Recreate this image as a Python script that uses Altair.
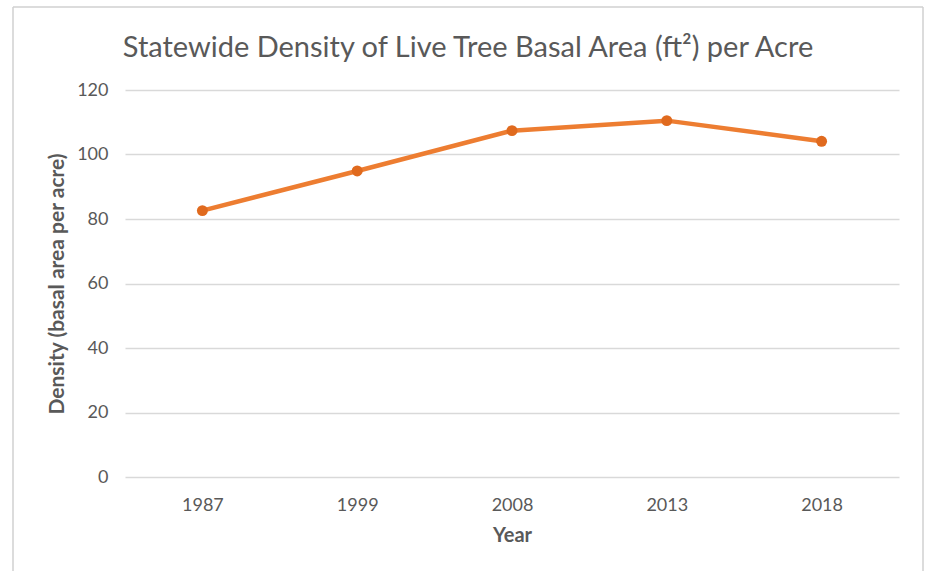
import altair as alt
import pandas as pd

# Survey years and average live tree basal area (sq ft per acre)
years = ["1987", "1999", "2008", "2013", "2018"]
density = [82.6, 94.9, 107.4, 110.5, 104.1]
chart_title = ["Statewide Density of Live Tree Basal Area (ft²) per Acre"]

df = pd.DataFrame({"Year": years, "Density": density})

FONT = "Lato"
GREY = "#595959"
GRID = "#D9D9D9"
ORANGE = "#ED7D31"

base = alt.Chart(df)

line = base.mark_line(color=ORANGE, strokeWidth=4.5).encode(
    x=alt.X(
        "Year:N",
        sort=years,
        scale=alt.Scale(paddingInner=1, paddingOuter=0.5),
        axis=alt.Axis(
            title="Year",
            labelAngle=0,
            labelFont=FONT,
            labelFontSize=18,
            labelColor=GREY,
            labelPadding=19,
            ticks=False,
            domain=False,
            grid=False,
            titleFont=FONT,
            titleFontSize=20,
            titleFontWeight="bold",
            titleColor=GREY,
            titlePadding=11,
        ),
    ),
    y=alt.Y(
        "Density:Q",
        scale=alt.Scale(domain=[0, 120]),
        axis=alt.Axis(
            title="Density (basal area per acre)",
            values=[0, 20, 40, 60, 80, 100, 120],
            labelFont=FONT,
            labelFontSize=18,
            labelColor=GREY,
            labelPadding=17,
            ticks=False,
            domain=False,
            gridColor=GRID,
            gridWidth=1.5,
            titleFont=FONT,
            titleFontSize=21,
            titleFontWeight="bold",
            titleColor=GREY,
            titleX=-68,
            titleY=193.5,
            titleBaseline="middle",
        ),
    ),
)

points = base.mark_circle(color="#E06A1E", opacity=1, size=120).encode(
    x=alt.X("Year:N", sort=years),
    y="Density:Q",
)

# Chart heading, drawn as a text mark centred over the framed area
heading = alt.Chart(pd.DataFrame({"t": chart_title})).mark_text(
    font=FONT, fontSize=29, color=GREY, align="center", baseline="alphabetic"
).encode(text="t:N", x=alt.value(343), y=alt.value(-33))

# Thin frame around the whole chart area
frame = alt.Chart(pd.DataFrame({"k": [0]}))
frame_color = "#D0D0D0"
left = frame.mark_rule(color=frame_color, strokeWidth=1.5).encode(
    x=alt.value(-112), y=alt.value(-83), y2=alt.value(500)
)
right = frame.mark_rule(color=frame_color, strokeWidth=1.5).encode(
    x=alt.value(798), y=alt.value(-83), y2=alt.value(500)
)
top = frame.mark_rule(color=frame_color, strokeWidth=1.5).encode(
    x=alt.value(-112), x2=alt.value(798), y=alt.value(-83)
)

chart = (
    alt.layer(line, points, heading, left, right, top)
    .properties(
        width=774,
        height=387,
        background="white",
        padding={"left": 125, "top": 90, "right": 29, "bottom": 94},
        autosize=alt.AutoSizeParams(type="none"),
    )
    .configure_view(stroke=None)
)

chart.save("out.html", embed_options={"renderer": "svg", "actions": False})
